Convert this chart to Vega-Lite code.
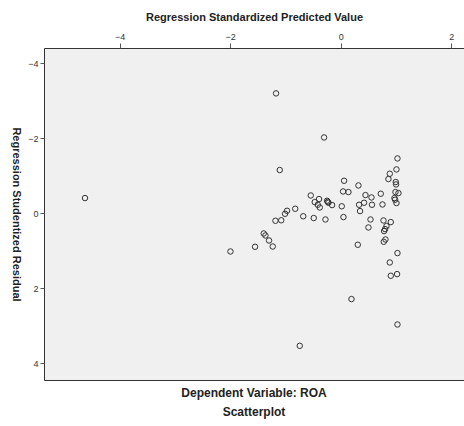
{
  "$schema": "https://vega.github.io/schema/vega-lite/v6.json",
  "autosize": "none",
  "width": 420,
  "height": 332,
  "padding": {"left": 44, "top": 48, "right": 0, "bottom": 46},
  "background": "white",
  "config": {
    "font": "Liberation Sans",
    "view": {"fill": "#f0f0f0", "stroke": "#333333", "strokeWidth": 1}
  },
  "title": {
    "text": "Dependent Variable: ROA",
    "subtitle": "Scatterplot",
    "orient": "bottom",
    "anchor": "middle",
    "offset": 8,
    "font": "Liberation Sans",
    "fontSize": 12,
    "fontWeight": "bold",
    "color": "#222222",
    "subtitleFont": "Liberation Sans",
    "subtitleFontSize": 12,
    "subtitleFontWeight": "bold",
    "subtitleColor": "#222222",
    "subtitlePadding": 7
  },
  "data": {
    "values": [
      {"pred": -1.171, "resid": -3.19},
      {"pred": -0.302, "resid": -2.016},
      {"pred": -1.104, "resid": -1.147},
      {"pred": -4.628, "resid": -0.40},
      {"pred": 0.06, "resid": -0.861},
      {"pred": 0.042, "resid": -0.576},
      {"pred": 0.139, "resid": -0.56},
      {"pred": -0.543, "resid": -0.469},
      {"pred": -0.393, "resid": -0.373},
      {"pred": -0.471, "resid": -0.293},
      {"pred": -0.248, "resid": -0.328},
      {"pred": -0.223, "resid": -0.275},
      {"pred": -0.235, "resid": -0.30},
      {"pred": -0.157, "resid": -0.213},
      {"pred": -0.416, "resid": -0.221},
      {"pred": -0.38, "resid": -0.149},
      {"pred": 0.018, "resid": -0.181},
      {"pred": -0.824, "resid": -0.115},
      {"pred": -0.972, "resid": -0.061},
      {"pred": -1.008, "resid": 0.019},
      {"pred": -1.182, "resid": 0.205},
      {"pred": -1.077, "resid": 0.192},
      {"pred": -0.679, "resid": 0.085},
      {"pred": -0.489, "resid": 0.133},
      {"pred": -0.277, "resid": 0.171},
      {"pred": 0.049, "resid": 0.107},
      {"pred": -1.394, "resid": 0.544},
      {"pred": -1.363, "resid": 0.597},
      {"pred": -1.298, "resid": 0.731},
      {"pred": -1.231, "resid": 0.891},
      {"pred": -1.551, "resid": 0.899},
      {"pred": -1.996, "resid": 1.024},
      {"pred": 1.026, "resid": -1.456},
      {"pred": 1.008, "resid": -1.163},
      {"pred": 0.887, "resid": -1.048},
      {"pred": 0.863, "resid": -0.907},
      {"pred": 0.32, "resid": -0.736},
      {"pred": 0.995, "resid": -0.827},
      {"pred": 1.001, "resid": -0.763},
      {"pred": 0.99, "resid": -0.56},
      {"pred": 1.044, "resid": -0.533},
      {"pred": 0.724, "resid": -0.515},
      {"pred": 0.447, "resid": -0.48},
      {"pred": 0.556, "resid": -0.416},
      {"pred": 0.972, "resid": -0.40},
      {"pred": 0.983, "resid": -0.355},
      {"pred": 1.008, "resid": -0.267},
      {"pred": 0.565, "resid": -0.221},
      {"pred": 0.422, "resid": -0.275},
      {"pred": 0.331, "resid": -0.221},
      {"pred": 0.755, "resid": -0.229},
      {"pred": 0.349, "resid": -0.053},
      {"pred": 0.538, "resid": 0.171},
      {"pred": 0.773, "resid": 0.197},
      {"pred": 0.905, "resid": 0.24},
      {"pred": 0.827, "resid": 0.347},
      {"pred": 0.802, "resid": 0.427},
      {"pred": 0.784, "resid": 0.48},
      {"pred": 0.501, "resid": 0.384},
      {"pred": 0.809, "resid": 0.704},
      {"pred": 0.778, "resid": 0.765},
      {"pred": 0.308, "resid": 0.845},
      {"pred": 1.026, "resid": 1.067},
      {"pred": 0.887, "resid": 1.317},
      {"pred": 0.905, "resid": 1.672},
      {"pred": 1.019, "resid": 1.627},
      {"pred": 0.194, "resid": 2.293},
      {"pred": 1.026, "resid": 2.971},
      {"pred": -0.742, "resid": 3.539}
    ]
  },
  "mark": {"type": "point", "shape": "circle", "filled": false, "size": 30, "stroke": "#333333", "strokeWidth": 1, "opacity": 1},
  "encoding": {
    "x": {
      "field": "pred",
      "type": "quantitative",
      "scale": {"domain": [-5.37, 2.23], "nice": false, "zero": false},
      "axis": {
        "orient": "top",
        "title": "Regression Standardized Predicted Value",
        "titleFont": "Liberation Sans",
        "titleFontSize": 11,
        "titleFontWeight": "bold",
        "titleColor": "#222222",
        "titlePadding": 10,
        "values": [-4, -2, 0, 2],
        "format": "d",
        "labelFont": "Liberation Sans",
        "labelFontSize": 9,
        "labelColor": "#333333",
        "tickColor": "#555555",
        "tickSize": 5,
        "domain": false,
        "grid": false,
        "labelPadding": 2
      }
    },
    "y": {
      "field": "resid",
      "type": "quantitative",
      "scale": {"domain": [-4.4, 4.45], "reverse": true, "nice": false, "zero": false},
      "axis": {
        "orient": "left",
        "title": "Regression Studentized Residual",
        "titleAngle": 90,
        "titleFont": "Liberation Sans",
        "titleFontSize": 11,
        "titleFontWeight": "bold",
        "titleColor": "#222222",
        "titlePadding": 17,
        "values": [-4, -2, 0, 2, 4],
        "format": "d",
        "labelFont": "Liberation Sans",
        "labelFontSize": 9,
        "labelColor": "#333333",
        "tickColor": "#555555",
        "tickSize": 4,
        "domain": false,
        "grid": false,
        "labelPadding": 2
      }
    }
  }
}
